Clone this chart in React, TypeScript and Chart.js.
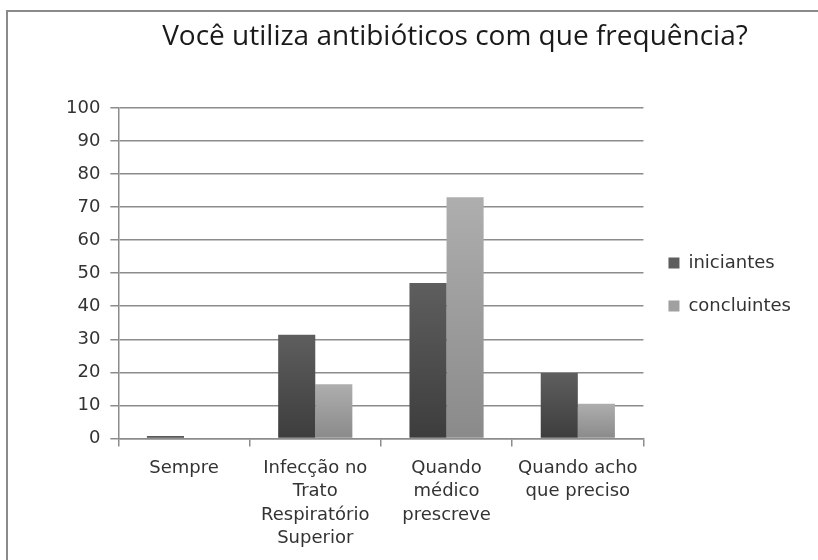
import React, { useEffect, useRef } from "react";
import { Chart, registerables } from "chart.js";

Chart.register(...registerables);

const TITLE = "Você utiliza antibióticos com que frequência?";
const categories: string[][] = [
  ["Sempre"],
  ["Infecção no", "Trato", "Respiratório", "Superior"],
  ["Quando", "médico", "prescreve"],
  ["Quando acho", "que preciso"],
];
const seriesNames = ["iniciantes", "concluintes"];
const iniciantes = [0.7, 31.4, 47.0, 19.8];
const concluintes = [0, 16.4, 73.0, 10.5];
const yMin = 0;
const yMax = 100;
const yStep = 10;

const GRID = "#8c8c8c";
const TEXT = "#333333";
const FONT = "'DejaVu Sans', sans-serif";

function barGradient(top: string, bottom: string, solid: string) {
  return (ctx: any) => {
    if (ctx.type !== "data") return solid;
    const chart = ctx.chart;
    const ys = chart.scales && chart.scales.y;
    if (!ys || !chart.chartArea) return solid;
    const v = ctx.raw as number;
    const yTop = ys.getPixelForValue(v);
    const yBot = ys.getPixelForValue(0);
    if (!isFinite(yTop) || !isFinite(yBot) || yTop === yBot) return solid;
    const g = chart.ctx.createLinearGradient(0, yTop, 0, yBot);
    g.addColorStop(0, top);
    g.addColorStop(1, bottom);
    return g;
  };
}

const framePlugin = {
  id: "frame",
  beforeDraw(chart: any) {
    const c = chart.ctx;
    c.save();
    c.fillStyle = "#ffffff";
    c.fillRect(0, 0, chart.width, chart.height);
    c.strokeStyle = "#8a8a8a";
    c.lineWidth = 2;
    c.strokeRect(7, 11, chart.width + 20, chart.height + 20);
    c.restore();
  },
  afterDraw(chart: any) {
    const c = chart.ctx;
    c.save();
    c.fillStyle = "#1a1a1a";
    c.font = "28px 'Open Sans', sans-serif";
    c.textAlign = "center";
    c.textBaseline = "alphabetic";
    c.fillText(TITLE, 455, 45);
    c.restore();
  },
};

export default function App() {
  const ref = useRef<HTMLCanvasElement | null>(null);
  useEffect(() => {
    if (!ref.current) return;
    const chart = new Chart(ref.current, {
      type: "bar",
      data: {
        labels: categories,
        datasets: [
          {
            label: seriesNames[0],
            data: iniciantes,
            backgroundColor: barGradient("#5e5e5e", "#3d3d3d", "#4a4a4a"),
            borderWidth: 0,
          },
          {
            label: seriesNames[1],
            data: concluintes,
            backgroundColor: barGradient("#aeaeae", "#8a8a8a", "#a0a0a0"),
            borderWidth: 0,
          },
        ],
      },
      options: {
        animation: false,
        responsive: false,
        maintainAspectRatio: false,
        layout: { padding: { left: 56, right: 17, top: 108, bottom: 0 } },
        datasets: {
          bar: { categoryPercentage: 0.565, barPercentage: 1.0 },
        },
        plugins: {
          title: { display: false },
          legend: {
            display: true,
            position: "right",
            align: "start",
            title: { display: true, text: "", padding: { top: 0, bottom: 106.6 }, font: { size: 12 } },
            labels: {
              boxWidth: 11,
              boxHeight: 11,
              padding: 25,
              color: TEXT,
              font: { family: FONT, size: 18 },
            },
          },
          tooltip: { enabled: false },
        },
        scales: {
          x: {
            grid: {
              display: true,
              offset: true,
              drawOnChartArea: false,
              drawTicks: true,
              tickLength: 8,
              color: GRID,
              lineWidth: 1.5,
            },
            border: { display: true, color: GRID, width: 1.5 },
            ticks: {
              color: TEXT,
              font: { family: FONT, size: 18, lineHeight: 1.3 },
              padding: 10,
              maxRotation: 0,
              autoSkip: false,
            },
          },
          y: {
            min: yMin,
            max: yMax,
            grid: {
              color: GRID,
              lineWidth: 1.5,
              tickLength: 8,
              drawTicks: true,
            },
            border: { display: true, color: GRID, width: 1.5 },
            ticks: {
              stepSize: yStep,
              color: TEXT,
              padding: 10,
              font: { family: FONT, size: 18 },
            },
          },
        },
      },
      plugins: [framePlugin],
    });
    return () => chart.destroy();
  }, []);
  return (
    <div style={{ position: "fixed", left: 0, top: 0, width: 818, height: 560, background: "#fff" }}>
      <canvas ref={ref} width={818} height={560} style={{ width: 818, height: 560, display: "block" }} />
    </div>
  );
}
